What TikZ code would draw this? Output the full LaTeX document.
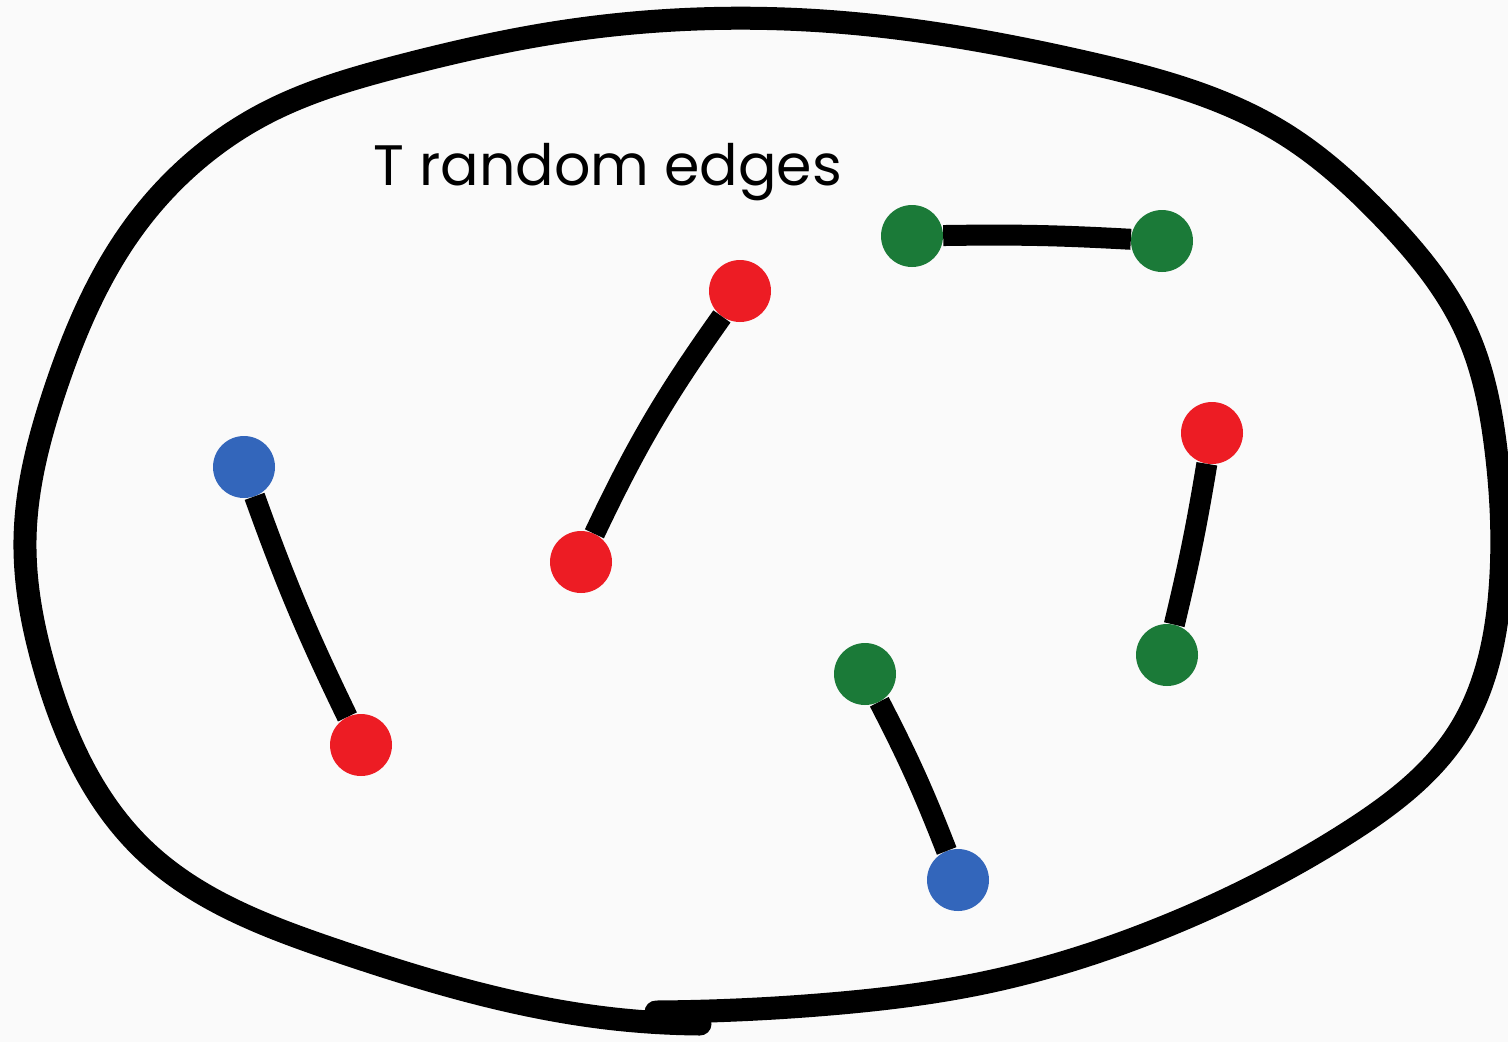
\documentclass[tikz,border=0pt]{standalone}
\usepackage{fontspec}
\usetikzlibrary{hobby}
\setmainfont{Poppins}
\definecolor{paper}{HTML}{FAFAFA}
\definecolor{dotred}{HTML}{ED1C24}
\definecolor{dotgreen}{HTML}{1B7A38}
\definecolor{dotblue}{HTML}{3366BB}
\begin{document}
\begin{tikzpicture}[x=1pt,y=-1pt,
  rim/.style={line width=23pt,line cap=round,line join=round},
  edgeline/.style={line width=21pt},
  dot/.style={circle,minimum size=62pt,inner sep=0pt,fill=#1},
  title/.style={font=\fontsize{57}{57}\selectfont,anchor=base west,inner sep=0pt}]
% canvas
\fill[paper] (0,0) rectangle (1508,1042);
\useasboundingbox (0,0) rectangle (1508,1042);
% enclosing loop, drawn clockwise from the small hook at the bottom
\draw[rim,use Hobby shortcut]
  (656,1012) .. (830,1004) .. (983,983) .. (1164,927) .. (1349,832)
  .. (1458,733) .. (1500,590) .. (1496,450) .. (1467,333) .. (1383,217)
  .. (1283,133) .. (1089,63) .. (823,21) .. (553,33) .. (400,66)
  .. (268,112) .. (134,227) .. (55,390) .. (25,540) .. (45,670)
  .. (144,850) .. (335,950) .. (598,1017) .. (700,1024);
% title
\node[title] (label) at (373,185) {T random edges};
% endpoints
\node[dot=dotblue]  (b1) at (244,467) {};
\node[dot=dotred]   (r1) at (361,745) {};
\node[dot=dotred]   (r2) at (581,562) {};
\node[dot=dotred]   (r3) at (740,291) {};
\node[dot=dotgreen] (g1) at (912,236) {};
\node[dot=dotgreen] (g2) at (1162,241) {};
\node[dot=dotred]   (r4) at (1212,433) {};
\node[dot=dotgreen] (g3) at (1167,655) {};
\node[dot=dotgreen] (g4) at (865,674) {};
\node[dot=dotblue]  (b2) at (958,880) {};
% edges
\draw[edgeline] (b1) to[bend right=3] (r1);
\draw[edgeline] (r2) to[bend left=5] (r3);
\draw[edgeline] (g1) to[bend left=2] (g2);
\draw[edgeline] (r4) to[bend left=2] (g3);
\draw[edgeline] (g4) to[bend left=3] (b2);
\end{tikzpicture}
\end{document}
